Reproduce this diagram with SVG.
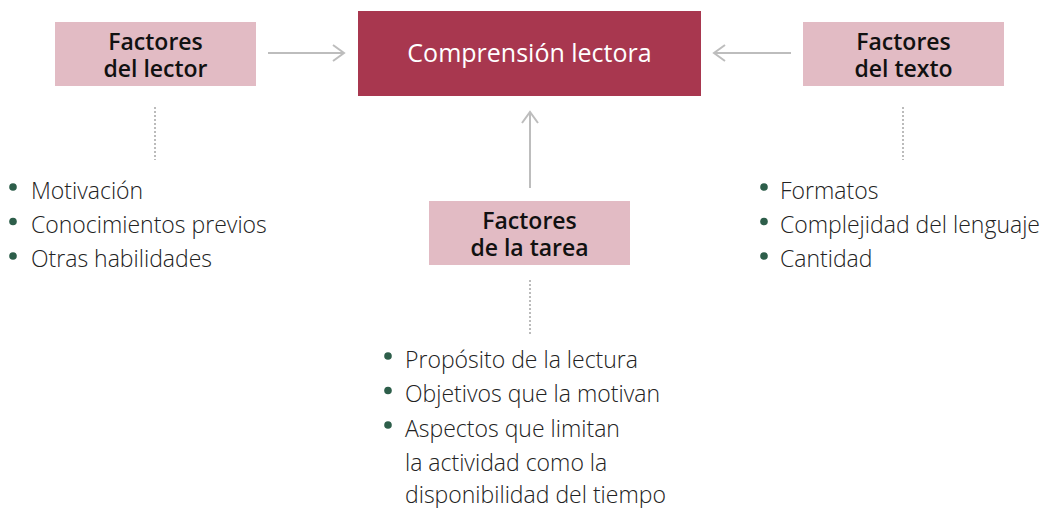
<svg xmlns="http://www.w3.org/2000/svg" width="1050" height="508" viewBox="0 0 1050 508">
<style>
.box{fill:#E2BBC4}
.main{fill:#A8374F}
.t{font-family:"Open Sans","Liberation Sans",sans-serif;font-weight:600;font-size:23px;fill:#111;text-anchor:middle}
.m{font-family:"Open Sans","Liberation Sans",sans-serif;font-weight:500;font-size:25px;fill:#fff;text-anchor:middle}
.b{font-family:"Open Sans","Liberation Sans",sans-serif;font-weight:300;font-size:23px;fill:#222}
.dot{fill:#2D5E4A}
.arr{stroke:#BDBDBD;stroke-width:2;fill:none}
.dash{stroke:#BBBBBB;stroke-width:2;stroke-dasharray:2 2;fill:none}
</style>
<rect width="1050" height="508" fill="#fff"/>
<g id="connectors">
<path class="arr" d="M268 53H344M333 45L344 53L333 61"/>
<path class="arr" d="M791 53H714M725 45L714 53L725 61"/>
<path class="arr" d="M530 188V112M522 123L530 112L538 123"/>
<path class="dash" d="M155 107V160"/>
<path class="dash" d="M903 107V160"/>
<path class="dash" d="M530 280V334"/>
</g>
<g id="comprension">
<rect class="main" x="358" y="11" width="343" height="85"/>
<text class="m" x="529.5" y="62">Comprensión lectora</text>
</g>
<g id="lector">
<rect class="box" x="55" y="22" width="201" height="64"/>
<text class="t" x="155.5" y="50">Factores</text>
<text class="t" x="155.5" y="77">del lector</text>
</g>
<g id="texto">
<rect class="box" x="803" y="22" width="201" height="64"/>
<text class="t" x="903.5" y="50">Factores</text>
<text class="t" x="903.5" y="77">del texto</text>
</g>
<g id="tarea">
<rect class="box" x="429" y="201" width="201" height="64"/>
<text class="t" x="529.5" y="229">Factores</text>
<text class="t" x="529.5" y="256">de la tarea</text>
</g>
<g id="lista-lector">
<circle class="dot" cx="13" cy="187" r="3.8"/>
<circle class="dot" cx="13" cy="221.5" r="3.8"/>
<circle class="dot" cx="13" cy="256" r="3.8"/>
<text class="b" x="31" y="199">Motivación</text>
<text class="b" x="31" y="233">Conocimientos previos</text>
<text class="b" x="31" y="267">Otras habilidades</text>
</g>
<g id="lista-texto">
<circle class="dot" cx="764" cy="187" r="3.8"/>
<circle class="dot" cx="764" cy="221.5" r="3.8"/>
<circle class="dot" cx="764" cy="256" r="3.8"/>
<text class="b" x="780" y="199">Formatos</text>
<text class="b" x="780" y="233">Complejidad del lenguaje</text>
<text class="b" x="780" y="267">Cantidad</text>
</g>
<g id="lista-tarea">
<circle class="dot" cx="388" cy="356" r="3.8"/>
<circle class="dot" cx="388" cy="390.5" r="3.8"/>
<circle class="dot" cx="388" cy="425" r="3.8"/>
<text class="b" x="405" y="368">Propósito de la lectura</text>
<text class="b" x="405" y="402">Objetivos que la motivan</text>
<text class="b" x="405" y="437">Aspectos que limitan</text>
<text class="b" x="405" y="471">la actividad como la</text>
<text class="b" x="405" y="503">disponibilidad del tiempo</text>
</g>
</svg>
